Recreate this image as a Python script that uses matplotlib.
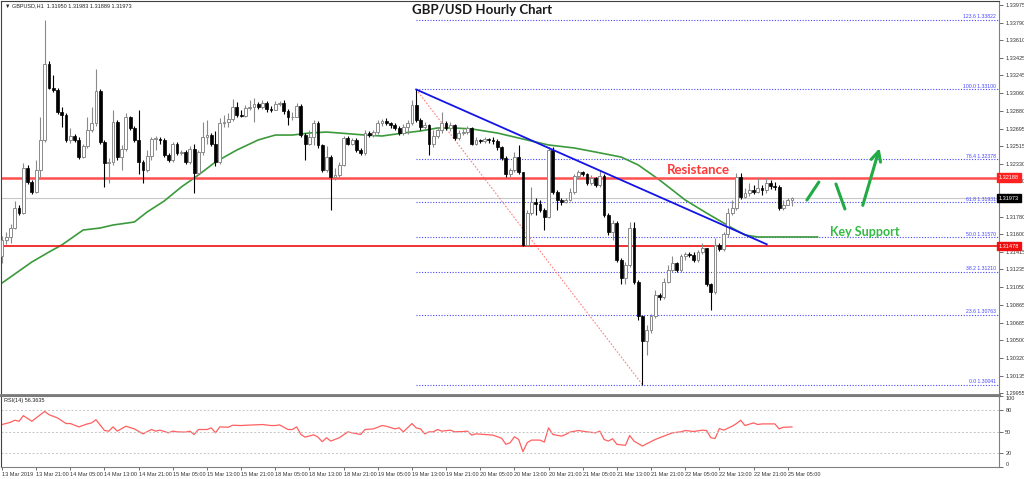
import numpy as np
import matplotlib
matplotlib.use("Agg")
import matplotlib.pyplot as plt
from matplotlib import font_manager

# ---------------- data (GBPUSD H1) ----------------
first_open = 1.3137
close = [
    1.3154, 1.3157, 1.3167, 1.3187, 1.3182, 1.3229, 1.3214, 1.3204, 1.3227, 1.3258,
    1.3336, 1.3312, 1.3309, 1.3287, 1.3284, 1.3258, 1.3262, 1.3258, 1.3240, 1.3251,
    1.3268, 1.3275, 1.3308, 1.3256, 1.3234, 1.3235, 1.3276, 1.3240, 1.3248, 1.3281,
    1.3270, 1.3258, 1.3235, 1.3227, 1.3241, 1.3259, 1.3259, 1.3258, 1.3242, 1.3237,
    1.3253, 1.3244, 1.3245, 1.3235, 1.3248, 1.3223, 1.3245, 1.3261, 1.3263, 1.3254,
    1.3235, 1.3275, 1.3276, 1.3279, 1.3292, 1.3284, 1.3283, 1.3291, 1.3292, 1.3295,
    1.3292, 1.3296, 1.3290, 1.3289, 1.3295, 1.3296, 1.3288, 1.3281, 1.3282, 1.3293,
    1.3263, 1.3254, 1.3261, 1.3275, 1.3252, 1.3227, 1.3240, 1.3219, 1.3221, 1.3232,
    1.3260, 1.3254, 1.3258, 1.3247, 1.3244, 1.3265, 1.3263, 1.3266, 1.3275, 1.3277,
    1.3275, 1.3273, 1.3270, 1.3265, 1.3271, 1.3275, 1.3294, 1.3278, 1.3271, 1.3273,
    1.3254, 1.3262, 1.3268, 1.3275, 1.3270, 1.3273, 1.3260, 1.3265, 1.3266, 1.3270,
    1.3254, 1.3258, 1.3257, 1.3259, 1.3258, 1.3257, 1.3250, 1.3239, 1.3222, 1.3227,
    1.3240, 1.3224, 1.3149, 1.3182, 1.3193, 1.3191, 1.3185, 1.3178, 1.3247, 1.3204,
    1.3196, 1.3193, 1.3196, 1.3204, 1.3220, 1.3225, 1.3222, 1.3213, 1.3218, 1.3211,
    1.3220, 1.3180, 1.3162, 1.3172, 1.3133, 1.3115, 1.3128, 1.3167, 1.3111, 1.3075,
    1.3049, 1.3061, 1.3075, 1.3097, 1.3095, 1.3111, 1.3123, 1.3130, 1.3123, 1.3137,
    1.3140, 1.3139, 1.3133, 1.3142, 1.3146, 1.3108, 1.3100, 1.3149, 1.3145, 1.3160,
    1.3182, 1.3187, 1.3219, 1.3199, 1.3203, 1.3206, 1.3204, 1.3208, 1.3206, 1.3213,
    1.3210, 1.3209, 1.3187, 1.3190, 1.3195, 1.31973]
high = [
    1.3158, 1.3162, 1.3171, 1.3194, 1.3190, 1.3234, 1.3232, 1.3216, 1.3237, 1.3281,
    1.3382, 1.3339, 1.3325, 1.3312, 1.3292, 1.3286, 1.3270, 1.3264, 1.3261, 1.3254,
    1.3281, 1.3292, 1.3331, 1.3310, 1.3258, 1.3239, 1.3289, 1.3278, 1.3252, 1.3286,
    1.3283, 1.3272, 1.3289, 1.3237, 1.3247, 1.3261, 1.3262, 1.3261, 1.3260, 1.3244,
    1.3256, 1.3256, 1.3247, 1.3247, 1.3251, 1.3253, 1.3247, 1.3276, 1.3278, 1.3265,
    1.3267, 1.3280, 1.3284, 1.3286, 1.3300, 1.3297, 1.3289, 1.3294, 1.3299, 1.3301,
    1.3297, 1.3299, 1.3298, 1.3293, 1.3298, 1.3298, 1.3299, 1.3290, 1.3287, 1.3296,
    1.3295, 1.3265, 1.3268, 1.3278, 1.3277, 1.3254, 1.3251, 1.3242, 1.3229, 1.3235,
    1.3262, 1.3262, 1.3260, 1.3260, 1.3249, 1.3268, 1.3267, 1.3268, 1.3278, 1.3279,
    1.3280, 1.3276, 1.3275, 1.3272, 1.3274, 1.3278, 1.3299, 1.3310, 1.3280, 1.3276,
    1.3274, 1.3268, 1.3270, 1.3287, 1.3277, 1.3276, 1.3274, 1.3268, 1.3269, 1.3272,
    1.3271, 1.3261, 1.3259, 1.3261, 1.3260, 1.3261, 1.3259, 1.3251, 1.3241, 1.3229,
    1.3245, 1.3252, 1.3225, 1.3185, 1.3209, 1.3198, 1.3196, 1.3187, 1.3250, 1.3250,
    1.3206, 1.3198, 1.3198, 1.3208, 1.3222, 1.3227, 1.3226, 1.3223, 1.3221, 1.3219,
    1.3227, 1.3222, 1.3182, 1.3175, 1.3174, 1.3135, 1.3131, 1.3173, 1.3173, 1.3113,
    1.3076, 1.3066, 1.3077, 1.3102, 1.3099, 1.3115, 1.3128, 1.3138, 1.3131, 1.3140,
    1.3142, 1.3142, 1.3142, 1.3144, 1.3151, 1.3146, 1.3110, 1.3156, 1.3151, 1.3162,
    1.3187, 1.3196, 1.3223, 1.3223, 1.3208, 1.3213, 1.3211, 1.3218, 1.3211, 1.3218,
    1.3216, 1.3214, 1.3211, 1.3196, 1.3198, 1.31983]
low = [
    1.3130, 1.3150, 1.3151, 1.3165, 1.3180, 1.3181, 1.3212, 1.3202, 1.3203, 1.3219,
    1.3256, 1.3310, 1.3307, 1.3285, 1.3271, 1.3256, 1.3255, 1.3256, 1.3238, 1.3239,
    1.3249, 1.3266, 1.3272, 1.3254, 1.3209, 1.3213, 1.3232, 1.3237, 1.3227, 1.3246,
    1.3268, 1.3256, 1.3222, 1.3213, 1.3225, 1.3237, 1.3247, 1.3253, 1.3240, 1.3235,
    1.3235, 1.3242, 1.3242, 1.3233, 1.3233, 1.3203, 1.3221, 1.3242, 1.3253, 1.3251,
    1.3231, 1.3233, 1.3271, 1.3271, 1.3277, 1.3281, 1.3281, 1.3281, 1.3289, 1.3276,
    1.3290, 1.3290, 1.3287, 1.3287, 1.3289, 1.3293, 1.3285, 1.3273, 1.3278, 1.3281,
    1.3261, 1.3237, 1.3252, 1.3252, 1.3249, 1.3224, 1.3224, 1.3185, 1.3216, 1.3219,
    1.3231, 1.3252, 1.3252, 1.3245, 1.3242, 1.3242, 1.3261, 1.3261, 1.3264, 1.3272,
    1.3273, 1.3270, 1.3268, 1.3263, 1.3263, 1.3264, 1.3273, 1.3276, 1.3268, 1.3268,
    1.3242, 1.3250, 1.3260, 1.3265, 1.3268, 1.3267, 1.3258, 1.3258, 1.3263, 1.3264,
    1.3252, 1.3252, 1.3255, 1.3255, 1.3255, 1.3254, 1.3247, 1.3237, 1.3219, 1.3219,
    1.3225, 1.3222, 1.3148, 1.3148, 1.3180, 1.3180, 1.3183, 1.3164, 1.3177, 1.3202,
    1.3185, 1.3190, 1.3192, 1.3194, 1.3202, 1.3218, 1.3220, 1.3211, 1.3211, 1.3209,
    1.3209, 1.3178, 1.3159, 1.3154, 1.3131, 1.3108, 1.3108, 1.3126, 1.3108, 1.3071,
    1.30041, 1.3035, 1.3058, 1.3073, 1.3092, 1.3093, 1.3109, 1.3121, 1.3121, 1.3121,
    1.3133, 1.3136, 1.3131, 1.3131, 1.3140, 1.3106, 1.3082, 1.3098, 1.3143, 1.3143,
    1.3157, 1.3180, 1.3185, 1.3197, 1.3198, 1.3200, 1.3202, 1.3203, 1.3201, 1.3203,
    1.3207, 1.3206, 1.3185, 1.3185, 1.3190, 1.31889]

# moving average, sampled along the line (bar index, price)
ma_bar = [0, 7, 11, 14, 19, 23, 26, 31, 34, 38, 42, 46, 50, 55, 60, 64, 68, 72, 76, 79,
          85, 89, 94, 98, 102, 106, 110, 116, 121, 128, 134, 139, 145, 149, 154, 160,
          165, 171, 174, 177, 183, 191]
ma_val = [1.31095, 1.31313, 1.31416, 1.31489, 1.31644, 1.31665, 1.31696, 1.31727,
          1.31831, 1.31945, 1.32090, 1.32214, 1.32349, 1.32473, 1.32577, 1.32628,
          1.32628, 1.32649, 1.32659, 1.32649, 1.32628, 1.32618, 1.32649, 1.32670,
          1.32701, 1.32701, 1.32691, 1.32649, 1.32597, 1.32525, 1.32494, 1.32452,
          1.32400, 1.32318, 1.32162, 1.31955, 1.31820, 1.31665, 1.31592, 1.31572,
          1.31572, 1.31572]

# RSI(14) sampled along the line
rsi_bar = [0, 2, 3, 4, 5, 7, 8, 10, 11, 13, 15, 16, 18, 20, 21, 22, 24, 25, 26, 27,
           29, 31, 33, 35, 36, 37, 39, 40, 41, 43, 44, 45, 46, 48, 49, 50, 51, 53, 54,
           56, 57, 59, 61, 63, 64, 65, 67, 68, 69, 70, 71, 73, 74, 75, 76, 77, 79, 81,
           82, 84, 85, 87, 89, 90, 92, 93, 94, 96, 97, 98, 99, 100, 101, 102, 103, 105,
           106, 108, 109, 110, 111, 113, 115, 117, 118, 119, 120, 121, 122, 123, 124,
           126, 127, 128, 129, 131, 132, 133, 135, 136, 137, 139, 140, 141, 142, 143,
           144, 146, 147, 148, 150, 151, 153, 154, 156, 157, 159, 160, 162, 164, 165,
           166, 167, 168, 169, 171, 172, 173, 174, 176, 177, 178, 181, 182, 183, 185]
rsi_val = [59.8, 63.0, 65.8, 64.4, 72.3, 64.4, 69.1, 78.3, 73.7, 69.1, 61.2, 61.2, 56.5,
           60.7, 62.1, 66.7, 51.4, 50.5, 56.5, 50.5, 57.4, 53.7, 46.7, 52.8, 50.5, 51.9,
           48.1, 50.5, 49.5, 49.1, 50.5, 45.8, 52.8, 52.8, 55.1, 48.1, 56.5, 56.0, 58.8,
           58.4, 58.8, 59.3, 59.8, 58.4, 58.4, 59.3, 52.8, 52.8, 56.5, 45.8, 42.1, 45.3,
           42.1, 35.6, 41.2, 36.5, 41.2, 49.5, 48.1, 45.8, 52.8, 53.7, 58.4, 57.4, 53.7,
           55.1, 49.5, 61.2, 55.1, 53.7, 46.7, 49.5, 49.5, 52.8, 50.5, 51.9, 49.5, 50.0,
           50.5, 44.9, 46.7, 45.8, 44.9, 40.5, 31.9, 34.2, 42.6, 38.8, 21.6, 34.2, 37.9,
           37.9, 35.1, 55.1, 45.8, 43.5, 45.8, 49.1, 51.4, 50.5, 49.5, 48.1, 50.5, 38.8,
           36.5, 39.8, 31.9, 30.5, 44.4, 36.5, 29.5, 32.8, 38.8, 41.2, 45.8, 48.1, 49.5,
           51.4, 50.0, 51.9, 51.4, 41.2, 40.2, 54.2, 51.9, 57.4, 61.2, 65.8, 58.4, 62.1,
           59.8, 60.7, 60.7, 53.7, 56.0, 56.36]

fib_pct = ["123.6", "100.0", "76.4", "61.8", "50.0", "38.2", "23.6", "0.0"]
fib_price = [1.33822, 1.33100, 1.32378, 1.31931, 1.31570, 1.31210, 1.30763, 1.30041]
fib_high_bar, fib_low_bar = 97, 150

resistance = 1.32188
support = 1.31478
last_price = 1.31973

trend_bar = [97, 179.1]
trend_price = [1.33100, 1.31496]

time_labels = ["13 Mar 2019", "13 Mar 21:00", "14 Mar 05:00", "14 Mar 13:00",
               "14 Mar 21:00", "15 Mar 05:00", "15 Mar 13:00", "15 Mar 21:00",
               "18 Mar 05:00", "18 Mar 13:00", "18 Mar 21:00", "19 Mar 05:00",
               "19 Mar 13:00", "19 Mar 21:00", "20 Mar 05:00", "20 Mar 13:00",
               "20 Mar 21:00", "21 Mar 05:00", "21 Mar 13:00", "21 Mar 21:00",
               "22 Mar 05:00", "22 Mar 13:00", "22 Mar 21:00", "25 Mar 05:00"]
price_ticks = [1.33975, 1.33790, 1.33610, 1.33425, 1.33245, 1.33060, 1.32880,
               1.32695, 1.32515, 1.32330, 1.32150, 1.31780, 1.31600, 1.31415,
               1.31235, 1.31050, 1.30865, 1.30685, 1.30500, 1.30320, 1.30135, 1.29955]

# ---------------- figure ----------------
W, H = 1024, 479
fig = plt.figure(figsize=(W / 100, H / 100), dpi=100)
fig.patch.set_facecolor("white")

# a narrow face for the tiny terminal labels, if one is installed
names = {f.name for f in font_manager.fontManager.ttflist}
narrow = "Liberation Sans Narrow" if "Liberation Sans Narrow" in names else "Liberation Sans"
tiny_family = [narrow, "DejaVu Sans"]
tiny_size = 4.6 if narrow.endswith("Narrow") else 4.0


def frame(x0, y0, x1, y1):
    return [x0 / W, 1 - y1 / H, (x1 - x0) / W, (y1 - y0) / H]


ax = fig.add_axes(frame(1, 1, 999, 395))
axr = fig.add_axes(frame(1, 396, 999, 467), sharex=ax)

small = dict(fontsize=tiny_size, family=tiny_family)

# candles
o = np.array([first_open] + close[:-1])
c = np.array(close)
h = np.maximum(np.array(high), np.maximum(o, c))
l = np.minimum(np.array(low), np.minimum(o, c))
x = np.arange(len(c))
up = c >= o
dn = ~up
ax.vlines(x[up], l[up], h[up], color="#8a8a8a", lw=0.8, zorder=3)
ax.vlines(x[dn], l[dn], h[dn], color="black", lw=0.8, zorder=3)
ax.bar(x[up], np.maximum(c - o, 0.00004)[up], bottom=o[up], width=0.66,
       facecolor="white", edgecolor="#8a8a8a", lw=0.7, zorder=4)
ax.bar(x[dn], np.maximum(o - c, 0.00004)[dn], bottom=c[dn], width=0.66,
       facecolor="black", edgecolor="black", lw=0.5, zorder=4)

# moving average
ax.plot(ma_bar, ma_val, color="#3c9a3c", lw=1.2, zorder=2)

# fibonacci retracement
for pct, p in zip(fib_pct, fib_price):
    ax.hlines(p, fib_high_bar, 240, color="#4646ff", lw=0.8, linestyle=(0, (1, 1.5)), zorder=1)
    ax.text(0.997, p + 0.00006, f"{pct} {p:.5f}", transform=ax.get_yaxis_transform(),
            ha="right", va="bottom", color="#4646ff", fontsize=tiny_size - 0.3,
            family=tiny_family)
ax.plot([fib_high_bar, fib_low_bar], [fib_price[1], fib_price[-1]],
        color="#ff8080", lw=0.8, linestyle=(0, (1.5, 1.5)), zorder=2)

# horizontal levels
ax.axhline(last_price, color="#c8c8c8", lw=0.8, zorder=1)
ax.axhline(resistance, color="#ff5050", lw=1.8, zorder=2)
ax.axhline(support, color="#ee1010", lw=1.2, zorder=2)

# trend line
ax.plot(trend_bar, trend_price, color="#1414e6", lw=1.3, zorder=5)

# hand-drawn scenario
ax.plot([188.5, 191.3], [1.31955, 1.32141], color="#22aa44", lw=2.2, solid_capstyle="round")
ax.plot([195.3, 197.4], [1.32121, 1.31862], color="#22aa44", lw=2.2, solid_capstyle="round")
ax.annotate("", xy=(205.7, 1.32520), xytext=(201.4, 1.31872),
            arrowprops=dict(arrowstyle="->,head_width=0.35,head_length=0.7",
                            color="#22aa44", lw=2.2))

ax.text(163.2, 1.32266, "Resistance", color="#ff3838", fontsize=9.5,
        family="Lato", weight="bold", ha="center", va="center")
ax.text(202.1, 1.31624, "Key Support", color="#33bb44", fontsize=9.0,
        family="Lato", weight="bold", ha="center", va="center")

# axes ranges
ax.set_xlim(-1 / 4.27, 997 / 4.27)
ax.set_ylim(1.34027 - 0.0001036 * 395, 1.34027 - 0.0001036 * 1)

ax.yaxis.tick_right()
ax.set_yticks(price_ticks)
ax.set_yticklabels([f"{t:.5f}" for t in price_ticks], family=tiny_family)
ax.tick_params(axis="y", direction="out", length=3, width=0.6, colors="#555555",
               labelsize=tiny_size, pad=1.5, labelcolor="#333333")
ax.tick_params(axis="x", bottom=False, labelbottom=False)
for s in ["left", "top"]:
    ax.spines[s].set_color("#404040")
    ax.spines[s].set_linewidth(0.8)
ax.spines["right"].set_color("#808080")
ax.spines["right"].set_linewidth(0.8)
ax.spines["bottom"].set_color("#7a7a7a")
ax.spines["bottom"].set_linewidth(2.0)

# price boxes on the right scale
ytr = ax.get_yaxis_transform()
for p, fc in [(resistance, "#ff2020"), (support, "#ee1010"), (last_price, "black")]:
    ax.text(1.0, p, f"{p:.5f}", transform=ytr, ha="left", va="center", color="white",
            clip_on=False, zorder=10,
            bbox=dict(boxstyle="square,pad=0.3", facecolor=fc, edgecolor=fc), **small)

# title and info line
fig.text(482 / W, 1 - 10 / H, "GBP/USD Hourly Chart", ha="center", va="center",
         fontsize=9.5, family="Lato", weight="bold", color="#1a1a1a")
fig.text(5 / W, 1 - 6 / H, "\u25bc GBPUSD,H1  1.31950 1.31983 1.31889 1.31973",
         ha="left", va="center", color="#222222", **small)

# RSI panel
axr.plot(rsi_bar, rsi_val, color="#ff6060", lw=0.9)
for lev in [80, 50, 20]:
    axr.axhline(lev, color="#c4c4c4", lw=0.7, linestyle=(0, (2, 2)))
axr.set_ylim(0, 100)
axr.yaxis.tick_right()
axr.set_yticks([100, 80, 50, 20, 0])
axr.set_yticklabels(["100", "80", "50", "20", "0"], family=tiny_family)
axr.tick_params(axis="y", direction="out", length=3, width=0.6, colors="#555555",
                labelsize=tiny_size, pad=1.5, labelcolor="#333333")
lbls = axr.get_yticklabels()
lbls[0].set_va("top")
lbls[-1].set_va("bottom")
axr.text(0.003, 0.97, "RSI(14) 56.3635", transform=axr.transAxes, ha="left", va="top",
         color="#222222", **small)

axr.set_xticks(np.arange(len(time_labels)) * 8)
axr.set_xticklabels(time_labels, ha="left", family=tiny_family)
axr.tick_params(axis="x", direction="out", length=2.5, width=0.6, colors="#555555",
                labelsize=tiny_size, pad=1.0, labelcolor="#333333")
axr.spines["top"].set_color("#7a7a7a")
axr.spines["top"].set_linewidth(1.5)
axr.spines["left"].set_color("#404040")
axr.spines["left"].set_linewidth(0.8)
axr.spines["right"].set_color("#808080")
axr.spines["right"].set_linewidth(0.8)
axr.spines["bottom"].set_color("#808080")
axr.spines["bottom"].set_linewidth(0.8)

fig.savefig("out.png", dpi=100, facecolor="white")
